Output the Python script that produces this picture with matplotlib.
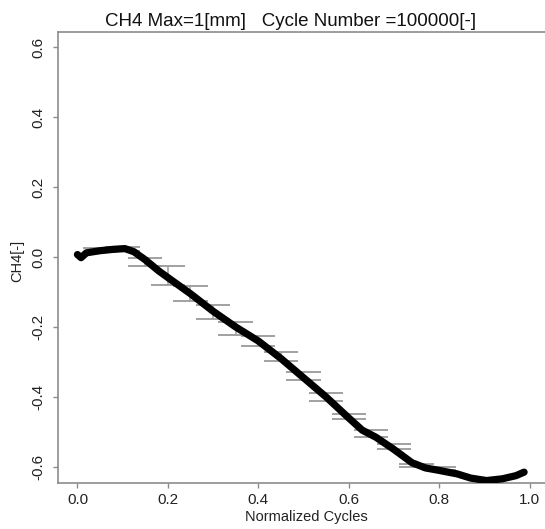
import matplotlib
matplotlib.use("Agg")
import matplotlib.pyplot as plt
import numpy as np

plt.rcParams['font.family'] = ['Liberation Sans', 'DejaVu Sans']

# traced mean curve
curve_x = [0.0, 0.008, 0.02, 0.05, 0.08, 0.105, 0.125, 0.15, 0.18, 0.21, 0.25,
           0.30, 0.35, 0.40, 0.45, 0.50, 0.55, 0.60, 0.63, 0.66, 0.70, 0.74,
           0.77, 0.80, 0.84, 0.87, 0.905, 0.94, 0.97, 0.988]
curve_y = [0.007, -0.002, 0.012, 0.018, 0.022, 0.024, 0.015, -0.008, -0.04,
           -0.068, -0.105, -0.155, -0.2, -0.24, -0.29, -0.345, -0.40, -0.46,
           -0.495, -0.515, -0.55, -0.588, -0.603, -0.61, -0.62, -0.632, -0.639,
           -0.634, -0.625, -0.615]

# error bars (center, mean, half error)
err_x = [0.05, 0.10, 0.15, 0.20, 0.25, 0.30, 0.35, 0.40, 0.45, 0.50, 0.55, 0.60,
         0.65, 0.70, 0.75, 0.80]
err_y = [0.019, 0.022, -0.015, -0.054, -0.104, -0.156, -0.204, -0.24, -0.285,
         -0.341, -0.40, -0.455, -0.505, -0.541, -0.596, -0.605]
err_e = [0.006, 0.006, 0.012, 0.027, 0.022, 0.02, 0.018, 0.013, 0.013, 0.012,
         0.012, 0.007, 0.01, 0.007, 0.005, 0.005]
cap_half = 0.038

title = "CH4 Max=1[mm]   Cycle Number =100000[-]"
xlabel = "Normalized Cycles"
ylabel = "CH4[-]"
xticks = [0.0, 0.2, 0.4, 0.6, 0.8, 1.0]
yticks = [-0.6, -0.4, -0.2, 0.0, 0.2, 0.4, 0.6]

fig = plt.figure(figsize=(5.45, 5.29), dpi=100)
ax = fig.add_axes([58/545, 1-483/529, (547.6-58)/545, (483-31.7)/529])

ex = np.array(err_x); ey = np.array(err_y); ee = np.array(err_e)
gray = '#9a9a9a'
ax.vlines(ex, ey - ee, ey + ee, color=gray, lw=1.1, zorder=1)
ax.hlines(ey + ee, ex - cap_half, ex + cap_half, color=gray, lw=1.3, zorder=1)
ax.hlines(ey - ee, ex - cap_half, ex + cap_half, color=gray, lw=1.3, zorder=1)

ax.plot(curve_x, curve_y, color='black', lw=5.2, solid_capstyle='round',
        solid_joinstyle='round', zorder=3)

ax.set_xlim(-0.043, 1.04)
ax.set_ylim(-0.646, 0.644)
ax.set_xticks(xticks)
ax.set_xticklabels([f"{t:.1f}" for t in xticks])
ax.set_yticks(yticks)
ax.set_yticklabels([f"{t:.1f}" for t in yticks], rotation=90, va='center')

axis_col = '#8c8c8c'
for s in ax.spines.values():
    s.set_color(axis_col)
    s.set_linewidth(1.2)
ax.spines['right'].set_visible(False)
ax.tick_params(axis='both', direction='out', length=3.6, width=1.0, color=axis_col,
               labelsize=11, labelcolor='#222222')
ax.tick_params(axis='y', pad=5.5)
ax.tick_params(axis='x', pad=3.5)

fig.text(17/545, 1-261/529, ylabel, rotation=90, ha='center', va='center',
         fontsize=10.5, color='#222222')
fig.text(306/545, 1-517/529, xlabel, ha='center', va='center', fontsize=10.5,
         color='#222222')
fig.text(291/545, 1-22/529, title, ha='center', va='center', fontsize=13.5,
         color='#111111')

fig.savefig("out.png", dpi=100)
